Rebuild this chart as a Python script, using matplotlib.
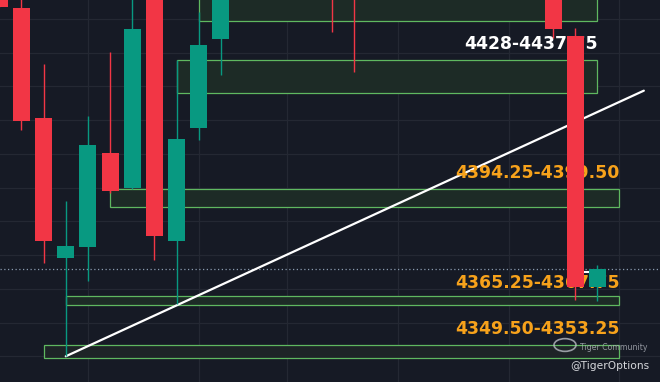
import matplotlib
matplotlib.use('Agg')
import matplotlib.pyplot as plt
from matplotlib.patches import Rectangle, Circle
import numpy as np

# candles (index on the time axis, open, high, low, close)
candle_idx = [-1, 0, 1, 2, 3, 4, 5, 6, 7, 8, 9, 14, 15, 24, 25, 26]
opens  = [4462.0, 4453.25, 4420.5, 4379.25, 4382.5, 4410.25, 4399.75, 4457.0, 4384.25, 4417.75, 4444.0, 4470.0, 4462.0, 4460.0, 4445.0, 4370.5]
highs  = [4465.0, 4458.0, 4436.75, 4396.0, 4421.25, 4440.25, 4458.0, 4462.0, 4437.75, 4452.0, 4466.0, 4474.0, 4466.0, 4463.0, 4447.25, 4377.0]
lows   = [4453.5, 4417.0, 4377.75, 4350.0, 4372.25, 4398.5, 4399.5, 4378.5, 4365.5, 4414.0, 4433.5, 4446.25, 4434.25, 4444.25, 4366.75, 4366.25]
closes = [4453.5, 4419.75, 4384.25, 4382.75, 4412.75, 4399.0, 4447.0, 4385.75, 4414.5, 4442.25, 4462.0, 4458.0, 4457.0, 4447.0, 4370.5, 4376.0]

# zones: (left idx, right idx, low, high)
zone_left  = [8, 7, 4, 2, 1]
zone_right = [26, 26, 27, 27, 27]
zone_low   = [4449.5, 4428.0, 4394.25, 4365.25, 4349.5]
zone_high  = [4460.0, 4437.75, 4399.5, 4367.75, 4353.25]

labels = ['4428-4437.75', '4394.25-4399.50', '4365.25-4367.75', '4349.50-4353.25']
label_x = [26, 27, 27, 27]
label_y = [4442.6, 4404.25, 4371.8, 4358.1]
label_col = ['white', '#f7a21b', '#f7a21b', '#f7a21b']
label_size = [12.4, 12.4, 12.4, 12.4]

trend_x = [2, 28.1]
trend_y = [4350.0, 4428.75]
last_price = 4376.0

grid_x = [3, 8, 12, 17, 22, 27]
grid_y = np.arange(4350, 4460, 10)

bg = '#161a25'
up = '#089981'
down = '#f23645'

fig = plt.figure(figsize=(6.6, 3.82), dpi=100, facecolor=bg)
ax = fig.add_axes([0, 0, 1, 1])
ax.set_facecolor(bg)
ax.set_xlim(-0.97, 28.83)
ax.set_ylim(4342.38, 4455.63)
ax.axis('off')

for gx in grid_x:
    ax.axvline(gx, color='#242833', lw=0.9, zorder=0)
for gy in grid_y:
    ax.axhline(gy, color='#242833', lw=0.9, zorder=0)

for i in range(len(zone_left)):
    fc = '#1d2b26' if i < 4 else '#1e2427'
    r = Rectangle((zone_left[i], zone_low[i]), zone_right[i] - zone_left[i],
                  zone_high[i] - zone_low[i], facecolor=fc, edgecolor='#5fb860',
                  lw=0.9, zorder=1)
    ax.add_patch(r)

for t, x, y, c, s in zip(labels, label_x, label_y, label_col, label_size):
    ax.text(x, y, t, color=c, fontsize=s, fontweight='bold', ha='right',
            va='center', zorder=3)

ax.plot(trend_x, trend_y, color='white', lw=1.6, zorder=2.5, solid_capstyle='round')
ax.axhline(last_price, color='#8a9bb0', lw=0.9, ls=(0, (1, 2)), zorder=2)
ax.plot([25.38, 25.62], [4375.1, 4375.1], color='white', lw=1.5, zorder=2.6)

for i, o, h, l, c in zip(candle_idx, opens, highs, lows, closes):
    col = up if c >= o else down
    ax.vlines(i, l, h, color=col, lw=1.0, zorder=4)
    ax.bar(i, abs(c - o), bottom=min(o, c), width=0.77, color=col, zorder=4)

# watermark
fig.patches.append(Circle((565 / 660, 1 - 345 / 382), 11 / 660, transform=fig.transFigure,
                          facecolor='none', edgecolor='#b8bcc4', lw=1.2, alpha=0.8))
fig.text(580 / 660, 1 - 347 / 382, 'Tiger Community', color='#a9adb5', fontsize=5.6,
         ha='left', va='center', alpha=0.85)
fig.text(570 / 660, 1 - 366 / 382, '@TigerOptions', color='#d6d8dc', fontsize=7.7,
         ha='left', va='center')

fig.savefig('out.png', dpi=100, facecolor=bg)
